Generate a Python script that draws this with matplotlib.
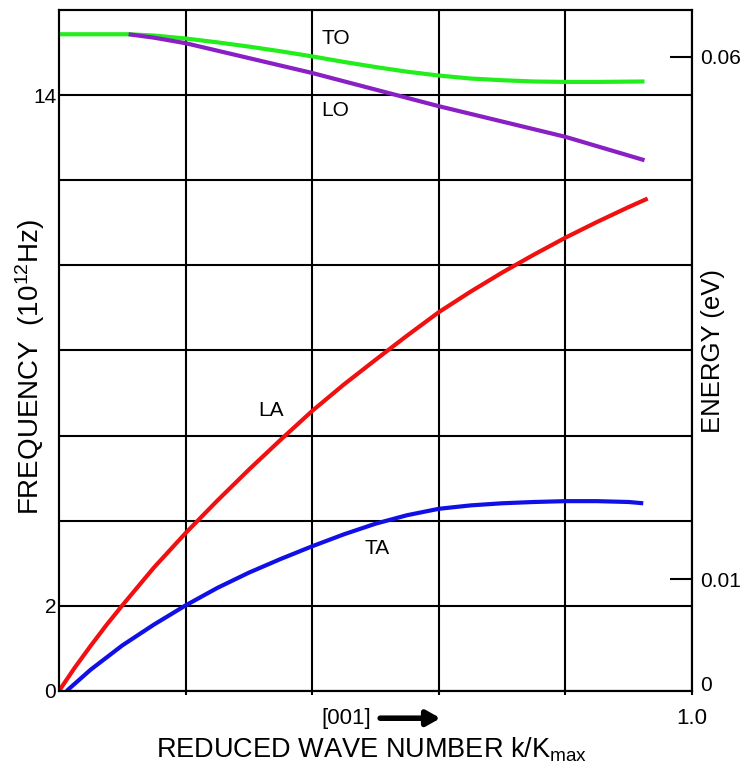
import matplotlib
matplotlib.use('Agg')
import matplotlib.pyplot as plt

plt.rcParams['font.family'] = ['Liberation Sans', 'DejaVu Sans']
plt.rcParams['mathtext.fontset'] = 'custom'
plt.rcParams['mathtext.rm'] = 'Liberation Sans'
plt.rcParams['mathtext.it'] = 'Liberation Sans'

# dispersion branches (k/Kmax, frequency in 10^12 Hz)
to_k = [0.0, 0.07, 0.11, 0.15, 0.2, 0.25, 0.3, 0.35, 0.4, 0.45, 0.5, 0.55,
        0.6, 0.65, 0.7, 0.75, 0.8, 0.85, 0.925]
to_f = [15.43, 15.43, 15.43, 15.40, 15.33, 15.24, 15.14, 15.03, 14.91, 14.78,
        14.66, 14.55, 14.46, 14.39, 14.35, 14.32, 14.31, 14.31, 14.32]

lo_k = [0.11, 0.15, 0.2, 0.3, 0.4, 0.5, 0.6, 0.7, 0.8, 0.925]
lo_f = [15.43, 15.35, 15.22, 14.87, 14.52, 14.13, 13.74, 13.38, 13.02, 12.47]

la_k = [0.0, 0.025, 0.05, 0.075, 0.1, 0.15, 0.2, 0.25, 0.3, 0.35, 0.4, 0.45,
        0.5, 0.55, 0.6, 0.65, 0.7, 0.75, 0.8, 0.85, 0.9, 0.93]
la_f = [0.0, 0.55, 1.06, 1.55, 2.01, 2.9, 3.71, 4.47, 5.2, 5.9, 6.58, 7.2,
        7.78, 8.35, 8.9, 9.38, 9.83, 10.25, 10.65, 11.02, 11.37, 11.57]

ta_k = [0.012, 0.05, 0.1, 0.15, 0.2, 0.25, 0.3, 0.35, 0.4, 0.45, 0.5, 0.55,
        0.6, 0.65, 0.7, 0.75, 0.8, 0.85, 0.9, 0.923]
ta_f = [0.0, 0.5, 1.07, 1.56, 2.01, 2.42, 2.78, 3.1, 3.4, 3.68, 3.93, 4.13,
        4.28, 4.36, 4.41, 4.44, 4.46, 4.46, 4.44, 4.41]

freq_ticks = [0, 2, 4, 6, 8, 10, 12, 14]
freq_labels = ['0', '2', '', '', '', '', '', '14']
k_ticks = [0.2, 0.4, 0.6, 0.8, 1.0]
k_labels = ['', '', '', '', '1.0']
energy_ticks = [0, 0.01, 0.06]
energy_labels = ['0', '0.01', '0.06']

fig = plt.figure(figsize=(7.42, 7.63), dpi=100)
ax = fig.add_axes([0.0795, 0.0944, 0.8531, 0.8925])

lw = 3.0
ax.plot(to_k, to_f, color='#22ee1c', lw=lw, solid_capstyle='butt', zorder=3)
ax.plot(lo_k, lo_f, color='#8a1fc4', lw=lw, solid_capstyle='butt', zorder=3)
ax.plot(la_k, la_f, color='#f01010', lw=lw, solid_capstyle='butt', zorder=3)
ax.plot(ta_k, ta_f, color='#1010e6', lw=lw, solid_capstyle='butt', zorder=3)

ax.set_xlim(0, 1.0)
ax.set_ylim(0, 16)
ax.set_yticks(freq_ticks, labels=freq_labels)
ax.set_xticks(k_ticks, labels=k_labels)
ax.grid(True, color='black', lw=1.5)
ax.set_axisbelow(True)
for s in ax.spines.values():
    s.set_linewidth(1.5)
ax.tick_params(axis='y', length=0, pad=2, labelsize=15)
ax.tick_params(axis='x', length=3, width=1.5, pad=9, labelsize=16)

# branch labels
ax.text(0.415, 15.34, 'TO', fontsize=15, ha='left', va='center')
ax.text(0.415, 13.65, 'LO', fontsize=15, ha='left', va='center')
ax.text(0.315, 6.6, 'LA', fontsize=15, ha='left', va='center')
ax.text(0.483, 3.34, 'TA', fontsize=15, ha='left', va='center')

# energy axis on the right
ax2 = ax.twinx()
ax2.set_ylim(-0.0007, 0.0645)
ax2.set_yticks(energy_ticks, labels=energy_labels)
ax2.tick_params(axis='y', direction='in', length=16, width=1.5, pad=6, labelsize=15)
ax2.yaxis.get_major_ticks()[0].tick2line.set_visible(False)
for s in ax2.spines.values():
    s.set_linewidth(1.5)

# direction marker
ax.text(0.415, -0.04, '[001]', transform=ax.transAxes, fontsize=16,
        ha='left', va='center')
ax.annotate('', xy=(0.607, -0.04), xytext=(0.503, -0.04), xycoords='axes fraction',
            arrowprops=dict(arrowstyle='-|>,head_length=0.8,head_width=0.45',
                            color='black', lw=4))

fig.text(372 / 742, 1 - 750 / 763, r'REDUCED WAVE NUMBER k/K$_{\rm max}$',
         fontsize=19.5, ha='center', va='center')
fig.text(30 / 742, 1 - 367 / 763, r'FREQUENCY  (10$^{12}$Hz)',
         fontsize=20, rotation=90, ha='center', va='center')
fig.text(713 / 742, 1 - 351 / 763, 'ENERGY (eV)',
         fontsize=18.5, rotation=90, ha='center', va='center')

fig.savefig('out.png', dpi=100, facecolor='white')
